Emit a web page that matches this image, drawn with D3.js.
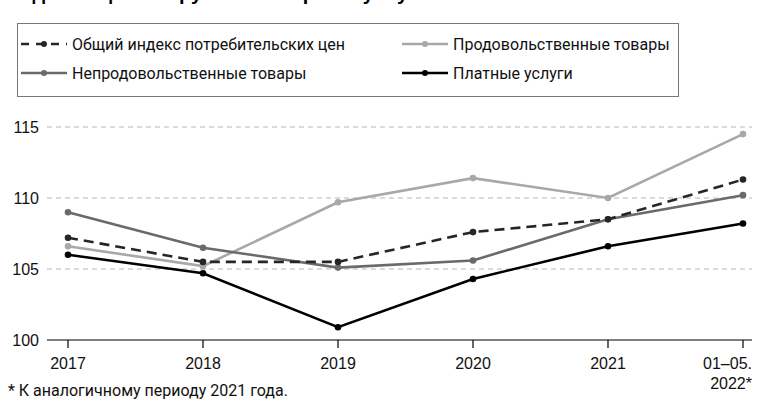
<!DOCTYPE html>
<html>
<head>
<meta charset="utf-8">
<script src="https://cdn.jsdelivr.net/npm/d3@7"></script>
<style>
  body { margin: 0; background: #fff; }
  svg { display: block; }
  .legend-text { font-family: "Roboto", sans-serif; font-size: 16px; fill: #111; }
  .axis text { font-family: "Liberation Sans", Arial, sans-serif; font-size: 16px; fill: #111; }
</style>
</head>
<body>
<div id="chart"></div>
<script>
// data
const years = ['2017', '2018', '2019', '2020', '2021', '01–05.|2022*'];
const cpiTotal = [107.2, 105.5, 105.5, 107.6, 108.5, 111.3];
const foodGoods = [106.6, 105.2, 109.7, 111.4, 110.0, 114.5];
const nonFoodGoods = [109.0, 106.5, 105.1, 105.6, 108.5, 110.2];
const paidServices = [106.0, 104.7, 100.9, 104.3, 106.6, 108.2];
const yTicks = [100, 105, 110, 115];

const series = [
  { name: 'Общий индекс потребительских цен', values: cpiTotal, color: '#262626', dash: '10,6' },
  { name: 'Продовольственные товары', values: foodGoods, color: '#a8a8a8', dash: null },
  { name: 'Непродовольственные товары', values: nonFoodGoods, color: '#6a6a6a', dash: null },
  { name: 'Платные услуги', values: paidServices, color: '#000', dash: null }
];
// draw order: light first, dashed on top
const drawOrder = [1, 2, 3, 0];

const width = 761, height = 411;
const svg = d3.select('#chart').append('svg')
  .attr('width', width)
  .attr('height', height);

// title, cut off at the top edge as in the source
svg.append('text')
  .attr('x', 6).attr('y', 0)
  .style('font-family', '"Liberation Sans", Arial, sans-serif')
  .style('font-size', '20px').style('font-weight', 'bold')
  .text('Индексы цен по группам товаров и услуг');

const x = d3.scalePoint().domain(years).range([68, 743]);
const y = d3.scaleLinear().domain([100, 115]).range([340, 127]);

// grid
svg.append('g')
  .selectAll('line')
  .data(yTicks.filter(d => d > 100))
  .enter().append('line')
    .attr('x1', 47).attr('x2', 752)
    .attr('y1', d => y(d)).attr('y2', d => y(d))
    .attr('stroke', '#b5b5b5')
    .attr('stroke-width', 1)
    .attr('stroke-dasharray', '5,4');

// y labels
const yAxis = svg.append('g').attr('class', 'axis');
yAxis.selectAll('text')
  .data(yTicks)
  .enter().append('text')
    .attr('x', 39)
    .attr('y', d => y(d))
    .attr('dy', '0.35em')
    .attr('text-anchor', 'end')
    .text(d => d);

// x axis
const xAxis = svg.append('g').attr('class', 'axis');
xAxis.append('line')
  .attr('x1', 47).attr('x2', 752)
  .attr('y1', y(100)).attr('y2', y(100))
  .attr('stroke', '#000').attr('stroke-width', 1.2);
xAxis.selectAll('.tick')
  .data(years)
  .enter().append('line')
    .attr('x1', d => x(d)).attr('x2', d => x(d))
    .attr('y1', y(100)).attr('y2', y(100) + 8)
    .attr('stroke', '#000').attr('stroke-width', 1.2);
xAxis.selectAll('.lbl')
  .data(years)
  .enter().append('text')
    .attr('text-anchor', (d, i) => i === years.length - 1 ? 'end' : 'middle')
    .attr('x', (d, i) => i === years.length - 1 ? x(d) + 9 : x(d))
    .attr('y', 363)
    .each(function(d) {
      const parts = d.split('|');
      const t = d3.select(this);
      parts.forEach((p, k) => {
        t.append('tspan')
          .attr('x', t.attr('x'))
          .attr('dy', k === 0 ? '0.35em' : '1.25em')
          .text(p);
      });
    });

// footnote
svg.append('text')
  .attr('class', 'legend-text')
  .attr('x', 8).attr('y', 396)
  .text('* К аналогичному периоду 2021 года.');

// lines
const line = d3.line()
  .x((d, i) => x(years[i]))
  .y(d => y(d));

drawOrder.forEach(k => {
  const s = series[k];
  const g = svg.append('g');
  g.append('path')
    .datum(s.values)
    .attr('fill', 'none')
    .attr('stroke', s.color)
    .attr('stroke-width', 2.6)
    .attr('stroke-dasharray', s.dash)
    .attr('d', line);
  g.selectAll('circle')
    .data(s.values)
    .enter().append('circle')
      .attr('cx', (d, i) => x(years[i]))
      .attr('cy', d => y(d))
      .attr('r', 3.3)
      .attr('fill', s.color);
});

// legend
const legend = svg.append('g');
legend.append('rect')
  .attr('x', 17.5).attr('y', 23.5)
  .attr('width', 661).attr('height', 73)
  .attr('fill', '#fff')
  .attr('stroke', '#777')
  .attr('stroke-width', 1);

const legendPos = [
  { x: 21, y: 44 }, { x: 402, y: 44 },
  { x: 21, y: 73 }, { x: 402, y: 73 }
];
series.forEach((s, i) => {
  const p = legendPos[i];
  const item = legend.append('g').attr('transform', 'translate(' + p.x + ',' + p.y + ')');
  item.append('line')
    .attr('x1', 0).attr('x2', 46)
    .attr('y1', 0).attr('y2', 0)
    .attr('stroke', s.color)
    .attr('stroke-width', 2.6)
    .attr('stroke-dasharray', s.dash ? '8,7' : null);
  item.append('circle')
    .attr('cx', 23).attr('cy', 0).attr('r', 3)
    .attr('fill', s.color);
  item.append('text')
    .attr('class', 'legend-text')
    .attr('x', 51).attr('y', 0)
    .attr('dy', '0.35em')
    .text(s.name);
});
</script>
</body>
</html>
